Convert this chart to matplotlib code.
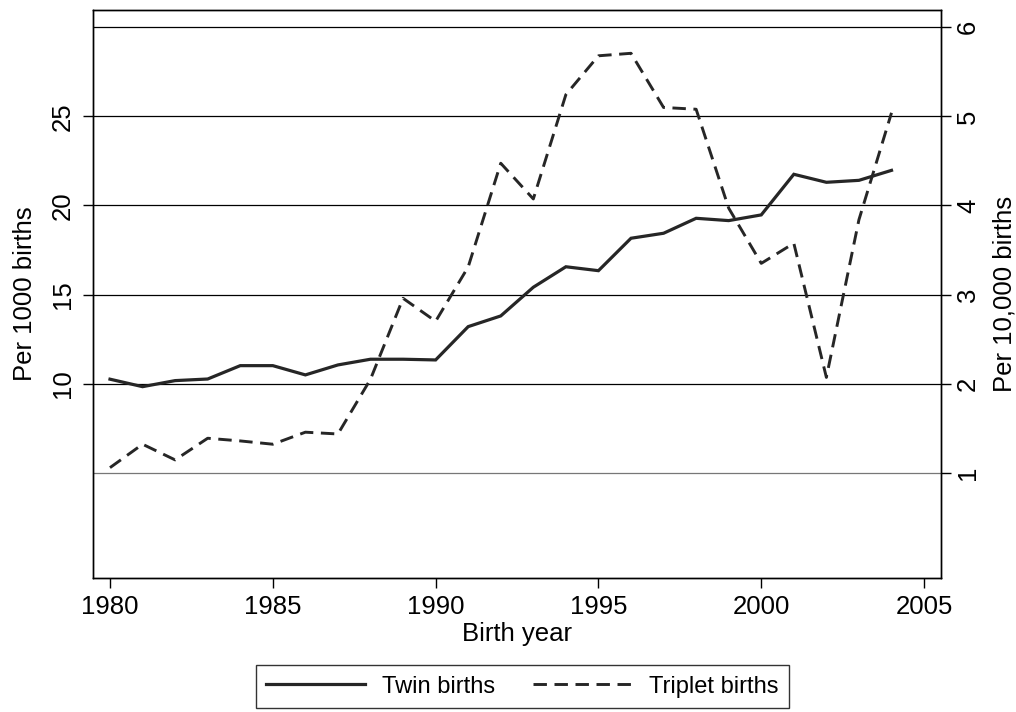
import matplotlib
matplotlib.use("Agg")
import matplotlib.pyplot as plt

plt.rcParams['font.family'] = ['Liberation Sans', 'DejaVu Sans']

years = list(range(1980, 2005))
twin_per_1000 = [10.25, 9.83, 10.17, 10.26, 11.01, 11.01, 10.49, 11.05, 11.37, 11.37,
                 11.33, 13.2, 13.8, 15.41, 16.56, 16.34, 18.16, 18.44, 19.28, 19.15,
                 19.47, 21.75, 21.3, 21.41, 21.97]
triplet_per_10000 = [1.057, 1.32, 1.144, 1.387, 1.357, 1.32, 1.455, 1.435, 2.05, 2.958,
                     2.70, 3.31, 4.474, 4.073, 5.244, 5.68, 5.708, 5.10, 5.08, 3.97,
                     3.35, 3.576, 2.07, 3.84, 5.04]
x_ticks = [1980, 1985, 1990, 1995, 2000, 2005]
left_ticks = [10, 15, 20, 25]
right_ticks = [1, 2, 3, 4, 5, 6]

line_color = '#262626'
fs = 18.5

fig = plt.figure(figsize=(10.16, 7.12), dpi=100)
ax = fig.add_axes([93/1016, 1 - 578.3/712, (941-93)/1016, (578.3-10)/712])
ax2 = ax.twinx()

r_lo, r_hi = -0.185, 6.194
ax2.set_ylim(r_lo, r_hi)
ax.set_ylim(5*r_lo, 5*r_hi)
ax.set_xlim(1979.478, 2005.52)

ax2.set_yticks(right_ticks)
ax2.yaxis.grid(True, color='black', linewidth=0.9)
gl = ax2.get_ygridlines()
gl[0].set_color('#777777')
ax.set_zorder(ax2.get_zorder() + 1)
ax.patch.set_visible(False)

l1, = ax.plot(years, twin_per_1000, color=line_color, linewidth=2.3,
              solid_joinstyle='miter', label='Twin births')
l2, = ax2.plot(years, triplet_per_10000, color=line_color, linewidth=2.1,
               label='Triplet births')
l2.set_dashes([4.6, 2.6])
l2.set_zorder(3)
ax.set_yticks(left_ticks)
ax.set_xticks(x_ticks)

for a in (ax, ax2):
    for s in a.spines.values():
        s.set_linewidth(1.0)
        s.set_color('black')
    a.tick_params(direction='out', length=7, width=1.0, labelsize=fs, color='black')

ax.tick_params(axis='y', pad=6, labelrotation=90)
ax.tick_params(axis='x', pad=5)
for tick in ax.yaxis.get_major_ticks():
    tick.label1.set_va('center')

# right-hand tick labels, rotated like the reference
ax2.tick_params(axis='y', labelright=False)
ytrans = ax2.get_yaxis_transform()
for v in right_ticks:
    ax2.text(1.0318, v, str(v), transform=ytrans, rotation=90,
             ha='center', va='center', fontsize=fs)

ax.set_xlabel('Birth year', fontsize=fs, labelpad=2)
ax.set_ylabel('Per 1000 births', fontsize=fs)
ax2.set_ylabel('Per 10,000 births', fontsize=fs, rotation=90)
ax.yaxis.set_label_coords(-0.080, 0.5)
ax2.yaxis.set_label_coords(1.0745, 0.5)
ax.yaxis.label.set_va('center')
ax2.yaxis.label.set_va('center')

leg = fig.legend(handles=[l1, l2], loc='upper center', bbox_to_anchor=(0.514, 1 - 665/712),
                 ncol=2, fontsize=fs - 1.5, frameon=True, fancybox=False, edgecolor='black',
                 handlelength=4.2, handletextpad=0.7, columnspacing=1.6,
                 borderpad=0.45, borderaxespad=0)
leg.get_frame().set_linewidth(1.0)

fig.savefig('out.png', dpi=100)
